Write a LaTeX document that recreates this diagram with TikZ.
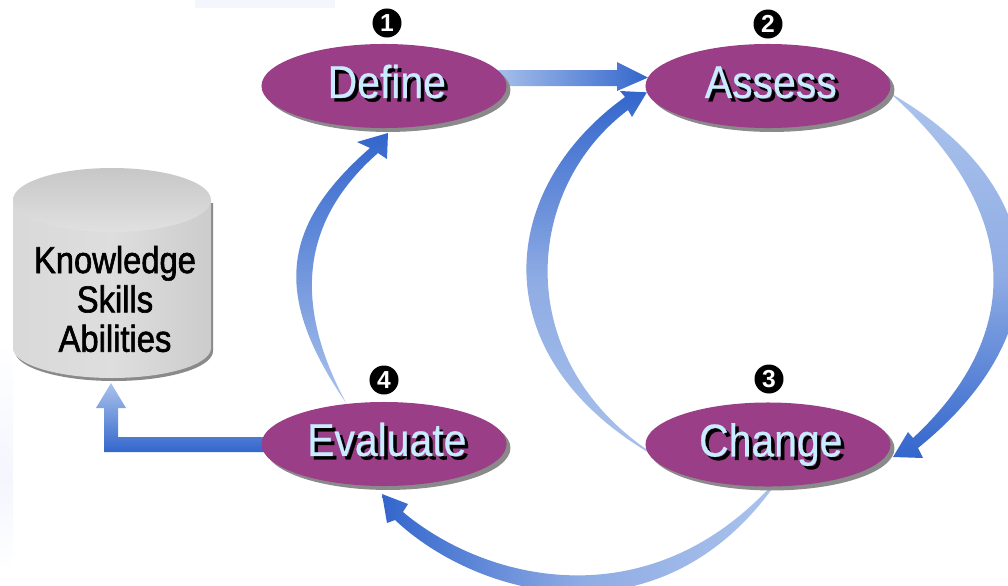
\documentclass[tikz,border=0pt]{standalone}
\usepackage{fontspec}
\usepackage{pgf,tikz}
\usetikzlibrary{shapes.geometric,shadows,backgrounds}
\setmainfont{Liberation Sans}
\newfontfamily\stagefont[FakeStretch=0.89,FakeBold=0.5]{Liberation Sans}
\newfontfamily\drumfont[FakeStretch=0.875,FakeBold=1.6]{Liberation Sans}
\definecolor{stagepurple}{HTML}{993E87}
\definecolor{stagetext}{HTML}{C8EBFF}
\definecolor{stageshadow}{HTML}{8A8A8A}
\definecolor{bandblue}{HTML}{3366CC}
\definecolor{bandmid}{HTML}{8FACE4}
\definecolor{bandpale}{HTML}{ABC3EC}
\definecolor{palewash}{HTML}{F3F6FD}
\newcommand{\dropped}[1]{\hspace*{4pt}\rlap{\hspace{2.5pt}\raisebox{-2.5pt}{\color{black}#1}}#1}

\begin{document}
\begin{tikzpicture}[x=0.025cm,y=0.025cm]
		\tikzstyle{every node}+=[inner sep=0pt,outer sep=0pt]
		\tikzstyle{stagebox}=[ellipse,fill=stagepurple,minimum width=6.125cm,minimum height=2.1cm,text=stagetext,font=\stagefont\fontsize{32.7}{36}\selectfont,text height=24pt,text depth=7pt,drop shadow={shadow xshift=2.8pt,shadow yshift=-2.8pt,fill=stageshadow,opacity=1}]
		\tikzstyle{badge}=[circle,fill=black,minimum size=0.725cm,text=white,font=\bfseries\fontsize{17.5}{17.5}\selectfont]
		\tikzstyle{drumlabel}=[align=center,font=\drumfont\fontsize{26.6}{28}\selectfont]
		\tikzstyle{fallband}=[top color=bandpale,bottom color=bandblue]
		\tikzstyle{riseband}=[top color=bandblue,bottom color=bandpale]
		\tikzstyle{eastband}=[left color=bandpale,right color=bandblue]
		\tikzstyle{westband}=[left color=bandblue,right color=bandpale]
		\useasboundingbox (0,0) rectangle (1008,-586);
		\node [stagebox] (define) at (384,-86) {\dropped{Define}};
		\node [stagebox] (assess) at (768,-86) {\dropped{Assess}};
		\node [stagebox] (change) at (768,-444.5) {\dropped{Change}};
		\node [stagebox] (evaluate) at (384,-444) {\dropped{Evaluate}};
		\node [badge] (badgeone) at (387,-23) {1};
		\node [badge] (badgetwo) at (768,-24) {2};
		\node [badge] (badgethree) at (769,-379) {3};
		\node [badge] (badgefour) at (384,-380) {4};
		\node [drumlabel] (drum) at (115,-299) {Knowledge\\Skills\\Abilities};
		\coordinate (definetip) at (388,-133);
		\coordinate (changetip) at (893,-457);
		\coordinate (evaluatetip) at (382,-494);
		\coordinate (drumtip) at (111,-383);
		\coordinate (changeleft) at (685,-472);
		\coordinate (changelow) at (785,-470);
		\begin{scope}[on background layer]
		\fill [palewash] (195,0) rectangle (335,-8);
		\shade [top color=white,bottom color=palewash] (0,-340) rectangle (13,-480);
		\shade [top color=palewash,bottom color=white] (0,-480) rectangle (13,-570);
		\fill [stageshadow] (15,-203) -- (15,-351) arc (180:360:99 and 30) -- (213,-203) -- cycle;
		\shade [left color=black!15,right color=black!20,middle color=black!13] (13,-200) -- (13,-348) arc (180:360:99 and 30) -- (211,-200) -- cycle;
		\shade [top color=black!22,bottom color=black!12] (112,-200) ellipse (99 and 32);
		\shade [eastband] (490,-70) -- (617,-70) -- (617,-62) -- (assess.176) -- (617,-91) -- (617,-86) -- (define.east) -- (490,-86) -- cycle;
		\shade [fallband,middle color=bandmid] (assess.-3) .. controls (1058,-190) and (1058,-335) .. (918,-448) -- (923,-458) -- (changetip) -- (908,-432) -- (913,-438) .. controls (1024,-335) and (1024,-212) .. (assess.-3) -- cycle;
		\shade [riseband,middle color=bandmid] (changeleft) .. controls (480,-375) and (489,-195) .. (625,-97) -- (620,-91) -- (assess.183) -- (632,-117) -- (628,-110) .. controls (515,-195) and (510,-385) .. (changeleft) -- cycle;
		\shade [westband,middle color=bandmid] (changelow) .. controls (670,-650) and (480,-600) .. (395,-520) -- (387,-523) -- (evaluatetip) -- (408,-504) -- (403,-512) .. controls (490,-585) and (660,-622) .. (changelow) -- cycle;
		\shade [riseband] (evaluate.133) .. controls (276,-300) and (276,-230) .. (370,-148) -- (357,-142) -- (definetip) -- (387,-159) -- (378,-153) .. controls (296,-225) and (296,-310) .. (evaluate.133) -- cycle;
		\shade [fallband] (270,-437) -- (118,-437) -- (118,-408) -- (126,-408) -- (drumtip) -- (96,-408) -- (104,-408) -- (104,-452) -- (270,-452) -- (evaluate.west) -- cycle;
		\end{scope}
		\end{tikzpicture}
\end{document}
